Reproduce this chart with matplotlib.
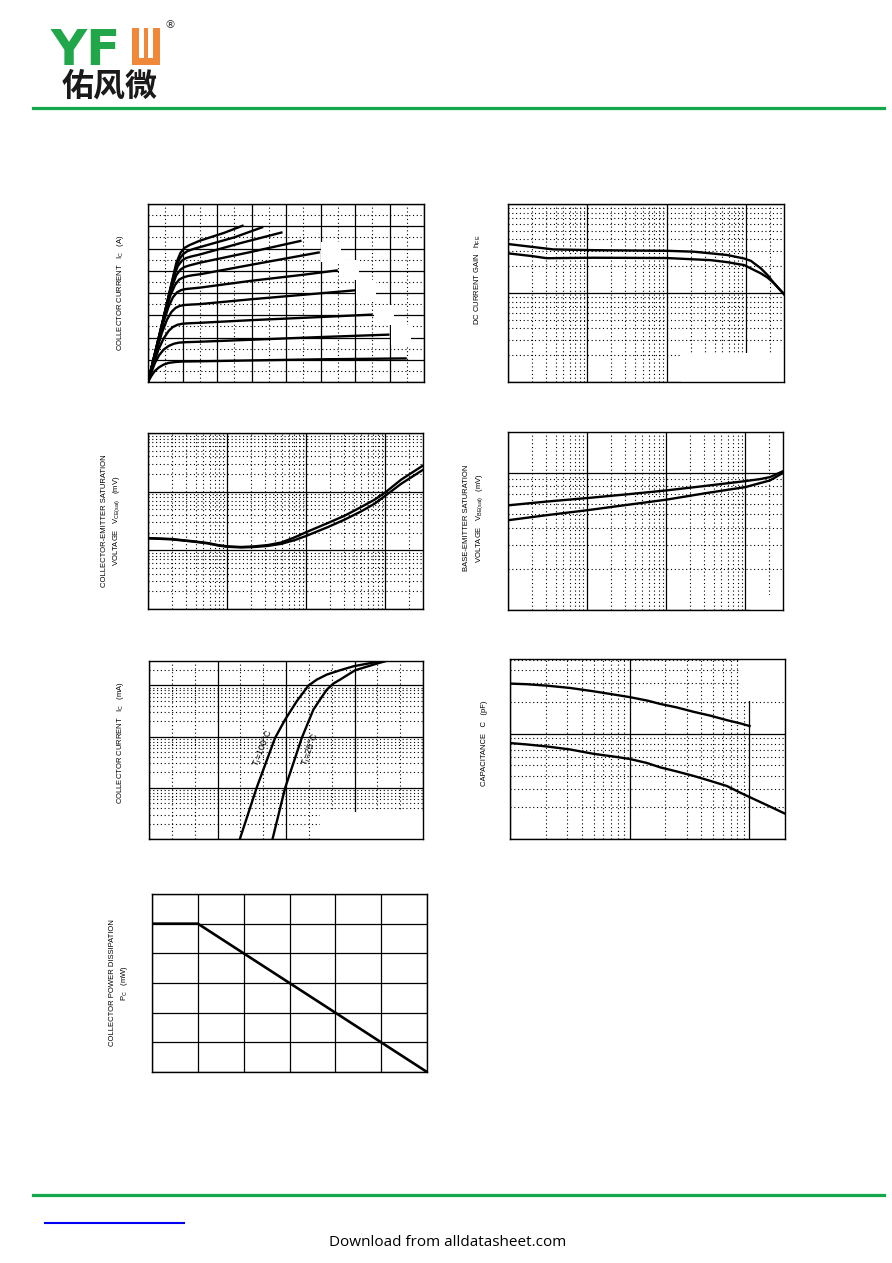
import matplotlib
matplotlib.use('Agg')
import matplotlib.pyplot as plt
from matplotlib.patches import Rectangle
from matplotlib.ticker import MultipleLocator, LogLocator
import numpy as np

plt.rcParams['font.family'] = ['Liberation Sans Narrow', 'Liberation Sans', 'DejaVu Sans']
plt.rcParams['mathtext.default'] = 'regular'

W, H = 892, 1263

# ---------------- data ----------------
# Chart 1: output characteristics, grid divisions (x 0..8, y 0..8)
ic_vce_x = [
    [0, 0.1, 0.2, 0.32, 0.45, 0.6, 0.8, 1.0, 1.5, 3.0, 5.0, 7.5],
    [0, 0.1, 0.2, 0.32, 0.45, 0.6, 0.75, 0.9, 1.1, 1.5, 3.0, 5.0, 7.0],
    [0, 0.15, 0.3, 0.45, 0.6, 0.72, 0.85, 1.0, 1.2, 1.5, 3.0, 5.0, 6.5],
    [0, 0.2, 0.4, 0.55, 0.68, 0.8, 0.92, 1.05, 1.25, 1.5, 3.0, 4.5, 6.0],
    [0, 0.25, 0.45, 0.6, 0.72, 0.84, 0.96, 1.1, 1.3, 1.5, 3.0, 4.5, 5.5],
    [0, 0.3, 0.5, 0.65, 0.78, 0.9, 1.02, 1.15, 1.3, 1.5, 3.0, 4.98],
    [0, 0.35, 0.55, 0.7, 0.82, 0.94, 1.06, 1.2, 1.35, 1.5, 3.0, 4.45],
    [0, 0.4, 0.6, 0.74, 0.86, 0.98, 1.1, 1.25, 1.5, 2.7, 3.9],
    [0, 0.45, 0.65, 0.78, 0.9, 1.02, 1.14, 1.3, 1.5, 2.5, 3.34],
    [0, 0.5, 0.7, 0.82, 0.94, 1.06, 1.2, 1.35, 1.5, 2.2, 2.77],
]
ic_vce_y = [
    [0, 0.28, 0.5, 0.66, 0.78, 0.86, 0.9, 0.92, 0.93, 0.97, 1.02, 1.06],
    [0, 0.45, 0.85, 1.2, 1.45, 1.62, 1.72, 1.77, 1.79, 1.81, 1.9, 2.02, 2.13],
    [0, 0.75, 1.45, 1.95, 2.3, 2.47, 2.57, 2.62, 2.64, 2.66, 2.78, 2.92, 3.03],
    [0, 1.15, 2.2, 2.8, 3.15, 3.33, 3.42, 3.46, 3.48, 3.5, 3.72, 3.92, 4.12],
    [0, 1.5, 2.7, 3.4, 3.8, 4.03, 4.13, 4.18, 4.21, 4.24, 4.55, 4.82, 5.02],
    [0, 1.85, 3.1, 3.9, 4.35, 4.6, 4.7, 4.76, 4.8, 4.84, 5.27, 5.83],
    [0, 2.2, 3.5, 4.3, 4.8, 5.05, 5.17, 5.24, 5.3, 5.36, 5.85, 6.35],
    [0, 2.55, 3.85, 4.7, 5.2, 5.45, 5.57, 5.64, 5.73, 6.25, 6.73],
    [0, 2.9, 4.2, 5.0, 5.5, 5.75, 5.88, 5.97, 6.06, 6.5, 6.97],
    [0, 3.2, 4.55, 5.35, 5.8, 6.03, 6.15, 6.25, 6.35, 6.7, 7.04],
]

# Chart 2: DC current gain vs Ic (log-log)
hfe_ic = [1, 2, 3.7, 11.9, 101, 220, 357, 580, 944, 1146, 1535, 1862, 2260, 3000]
hfe_hi = [355, 330, 309, 303, 298, 291, 279, 267, 244, 230, 189, 159, 128, 97]
hfe_ic2 = [1, 2, 3.06, 11.9, 101, 357, 580, 944, 1262, 1535, 1862, 2260, 3000]
hfe_lo = [279, 260, 246, 249, 247, 234, 222, 206, 181, 166, 149, 128, 97]

# Chart 3: VCE(sat) vs Ic
vce_ic = [1, 1.97, 3.88, 5.73, 7.66, 10, 15.1, 22.3, 32.8, 48.3, 71.2, 100, 188,
          305, 495, 730, 1000, 1585, 3000]
vce_a = [16.2, 15.6, 14.2, 13.3, 12.3, 11.7, 11.4, 11.7, 12.3, 13.6, 16.6, 20.4,
         29.2, 38.8, 54.7, 72.8, 97, 160, 279]
vce_b = [16.0, 15.4, 14.0, 13.1, 12.1, 11.5, 11.2, 11.4, 11.9, 12.9, 14.9, 17.6,
         24.9, 33.3, 46.1, 62.2, 85, 136, 236]

# Chart 4: VBE(sat) vs Ic
vbe_ic = [1, 3.06, 10, 31.6, 100, 324, 1000, 1535, 2050, 3000]
vbe_a = [582, 620, 658, 700, 748, 809, 875, 905, 936, 1034]
vbe_b = [453, 493, 536, 586, 640, 716, 791, 846, 885, 1005]

# Chart 5: Ic vs VBE
vbe100 = [0.398, 0.471, 0.552, 0.596, 0.647, 0.676, 0.698, 0.735, 0.779, 0.837,
          0.896, 0.998, 1.035]
ic100 = [0.01, 0.099, 0.94, 2.15, 4.9, 7.3, 9.9, 13.0, 16.3, 19.8, 23.7, 28.8, 30.5]
vbe25 = [0.541, 0.596, 0.669, 0.72, 0.749, 0.779, 0.808, 0.837, 0.903, 0.998, 1.035]
ic25 = [0.01, 0.099, 0.94, 3.37, 5.3, 8.3, 10.9, 13.0, 19.8, 26.7, 29.7]
temp_labels = ['T$_j$=100°C', 'T$_j$=25°C']

# Chart 6: capacitance vs voltage
cap_v1 = [0.1, 0.138, 0.203, 0.318, 0.499, 0.734, 1.0, 1.40, 1.81, 2.49, 3.43,
          4.74, 6.54, 8.45, 10.1]
cap_hi = [29.8, 29.4, 28.5, 27.1, 25.2, 23.5, 22.2, 20.6, 19.1, 17.7, 16.1,
          14.8, 13.4, 12.5, 11.8]
cap_v2 = [0.1, 0.138, 0.203, 0.318, 0.499, 0.734, 1.0, 1.40, 1.81, 2.49, 3.43,
          4.74, 6.54, 8.45, 10.1, 14.2, 20]
cap_lo = [8.13, 7.89, 7.55, 7.07, 6.43, 6.06, 5.75, 5.26, 4.78, 4.37, 3.97,
          3.56, 3.18, 2.75, 2.50, 2.09, 1.74]

# Chart 7: power derating
ta = [0, 25, 150]
pc = [250, 250, 0]

ylabels = {
    'c1': ['COLLECTOR CURRENT   $I_C$   (A)'],
    'c2': ['DC CURRENT GAIN   $h_{FE}$'],
    'c3': ['COLLECTOR-EMITTER SATURATION', 'VOLTAGE   $V_{CE(sat)}$   (mV)'],
    'c4': ['BASE-EMITTER SATURATION', 'VOLTAGE   $V_{BE(sat)}$   (mV)'],
    'c5': ['COLLECTOR CURRENT   $I_C$   (mA)'],
    'c6': ['CAPACITANCE   C   (pF)'],
    'c7': ['COLLECTOR POWER DISSIPATION', '$P_C$   (mW)'],
}

# ---------------- figure ----------------
fig = plt.figure(figsize=(W / 100, H / 100), dpi=100)


def fx(x):
    return x / W


def fy(y):
    return 1 - y / H


def add_ax(l, t, r, b):
    return fig.add_axes([l / W, 1 - b / H, (r - l) / W, (b - t) / H])


DOT = (0, (1, 2.4))


def style(ax, minor=True):
    ax.set_axisbelow(True)
    ax.tick_params(which='both', length=0, labelbottom=False, labelleft=False)
    for s in ax.spines.values():
        s.set_linewidth(1.0)
        s.set_color('black')
    ax.grid(True, which='major', color='black', lw=0.9, ls='-')
    if minor:
        ax.grid(True, which='minor', color='black', lw=0.8, ls=DOT)


def logx(ax):
    ax.set_xscale('log')
    ax.xaxis.set_major_locator(LogLocator(base=10, numticks=30))
    ax.xaxis.set_minor_locator(LogLocator(base=10, subs=np.arange(2, 10), numticks=30))


def logy(ax):
    ax.set_yscale('log')
    ax.yaxis.set_major_locator(LogLocator(base=10, numticks=30))
    ax.yaxis.set_minor_locator(LogLocator(base=10, subs=np.arange(2, 10), numticks=30))


def white(ax, x0, x1, y0, y1):
    ax.add_patch(Rectangle((x0, y0), x1 - x0, y1 - y0, facecolor='white',
                           edgecolor='none', zorder=1))


def ylab(lines, xs, yc, fs=5.5):
    for t, x in zip(lines, xs):
        fig.text(fx(x), fy(yc), t, rotation=90, ha='center', va='center',
                 fontsize=fs, color='black')


LW = 1.7

# Chart 1
ax1 = add_ax(148, 204, 424, 382)
ax1.set_xlim(0, 8)
ax1.set_ylim(0, 8)
ax1.xaxis.set_major_locator(MultipleLocator(1))
ax1.xaxis.set_minor_locator(MultipleLocator(0.5))
ax1.yaxis.set_major_locator(MultipleLocator(1))
ax1.yaxis.set_minor_locator(MultipleLocator(0.5))
style(ax1)
for i, (xs, ys) in enumerate(zip(ic_vce_x, ic_vce_y)):
    ax1.plot(xs, ys, color='black', lw=LW, zorder=2, solid_capstyle='butt',
             solid_joinstyle='round')
    if 1 <= i <= 5:
        white(ax1, xs[-1] + 0.04, xs[-1] + 0.62, ys[-1] - 0.45, ys[-1] + 0.45)
ylab(ylabels['c1'], [121], 293)

# Chart 2
ax2 = add_ax(508, 204, 784, 382)
logx(ax2)
logy(ax2)
ax2.set_xlim(1, 3000)
ax2.set_ylim(10, 1000)
style(ax2)
white(ax2, 150, 3000, 10, 21)
ax2.plot(hfe_ic, hfe_hi, color='black', lw=LW, zorder=2, solid_joinstyle='round')
ax2.plot(hfe_ic2, hfe_lo, color='black', lw=LW, zorder=2, solid_joinstyle='round')
ylab(ylabels['c2'], [478], 280)

# Chart 3
ax3 = add_ax(148, 433, 423, 609)
logx(ax3)
logy(ax3)
ax3.set_xlim(1, 3000)
ax3.set_ylim(1, 1000)
style(ax3)
ax3.plot(vce_ic, vce_a, color='black', lw=LW, zorder=2, solid_joinstyle='round')
ax3.plot(vce_ic, vce_b, color='black', lw=LW, zorder=2, solid_joinstyle='round')
ylab(ylabels['c3'], [104, 117], 521)

# Chart 4
ax4 = add_ax(508, 432, 783, 610)
logx(ax4)
logy(ax4)
ax4.set_xlim(1, 3000)
ax4.set_ylim(100, 2000)
style(ax4)
white(ax4, 1150, 3000, 100, 128)
ax4.plot(vbe_ic, vbe_a, color='black', lw=LW, zorder=2, solid_joinstyle='round')
ax4.plot(vbe_ic, vbe_b, color='black', lw=LW, zorder=2, solid_joinstyle='round')
ylab(ylabels['c4'], [467, 480], 518)

# Chart 5
ax5 = add_ax(149, 661, 423, 839)
logy(ax5)
ax5.set_xlim(0, 1.2)
ax5.set_ylim(0.01, 30)
ax5.xaxis.set_major_locator(MultipleLocator(0.3))
ax5.xaxis.set_minor_locator(MultipleLocator(0.1))
style(ax5)
white(ax5, 0.75, 1.2, 0.01, 0.033)
ax5.plot(vbe100, ic100, color='black', lw=LW, zorder=2, solid_joinstyle='round')
ax5.plot(vbe25, ic25, color='black', lw=LW, zorder=2, solid_joinstyle='round')
fig.text(fx(263), fy(748), temp_labels[0], rotation=68, ha='center', va='center',
         fontsize=6.5)
fig.text(fx(311), fy(750), temp_labels[1], rotation=70, ha='center', va='center',
         fontsize=6.5)
ylab(ylabels['c5'], [120], 742)

# Chart 6
ax6 = add_ax(510, 659, 785, 839)
logx(ax6)
logy(ax6)
ax6.set_xlim(0.1, 20)
ax6.set_ylim(1.0, 51)
style(ax6)
white(ax6, 8.5, 20, 20.2, 51)
ax6.plot(cap_v1, cap_hi, color='black', lw=LW, zorder=2, solid_joinstyle='round')
ax6.plot(cap_v2, cap_lo, color='black', lw=LW, zorder=2, solid_joinstyle='round')
ylab(ylabels['c6'], [484], 743)

# Chart 7
ax7 = add_ax(152, 894, 427, 1072)
ax7.set_xlim(0, 150)
ax7.set_ylim(0, 300)
ax7.xaxis.set_major_locator(MultipleLocator(25))
ax7.yaxis.set_major_locator(MultipleLocator(50))
style(ax7, minor=False)
ax7.plot(ta, pc, color='black', lw=1.9, zorder=2)
ylab(ylabels['c7'], [112, 125], 983)

# ---------------- header / footer ----------------
GREEN = '#12a84b'
ORANGE = '#f0883a'
fig.text(fx(51), fy(65), 'YF', fontsize=36, fontweight='bold', color='#22a64a',
         family='DejaVu Sans', ha='left', va='baseline')
ov = fig.add_axes([fx(132), fy(65), (160 - 132) / W, (65 - 28) / H])
ov.set_xlim(0, 28)
ov.set_ylim(0, 37)
ov.axis('off')
ov.add_patch(Rectangle((0, 0), 28, 37, facecolor=ORANGE, edgecolor='none'))
ov.add_patch(Rectangle((7, 7), 14, 30, facecolor='white', edgecolor='none'))
ov.add_patch(Rectangle((12, 7), 4, 30, facecolor=ORANGE, edgecolor='none'))
fig.text(fx(164), fy(28), '®', fontsize=8, color='#333333', family='DejaVu Sans',
         ha='left', va='baseline')
fig.text(fx(110), fy(87), '佑风微', fontsize=23, fontweight='bold', color='#1a1a1a',
         family=['Noto Sans CJK SC', 'DejaVu Sans'], ha='center', va='center')

fig.add_artist(plt.Line2D([fx(33), fx(884)], [fy(108), fy(108)], color=GREEN, lw=2.3))
fig.add_artist(plt.Line2D([fx(33), fx(884)], [fy(1195), fy(1195)], color=GREEN, lw=2.3))
fig.add_artist(plt.Line2D([fx(45), fx(184)], [fy(1223), fy(1223)], color='#0000ee', lw=1.5))
fig.text(fx(448), fy(1243), 'Download from alldatasheet.com', fontsize=11,
         family=['Open Sans', 'DejaVu Sans'], ha='center', va='center', color='black')

fig.savefig('out.png', dpi=100, facecolor='white')
